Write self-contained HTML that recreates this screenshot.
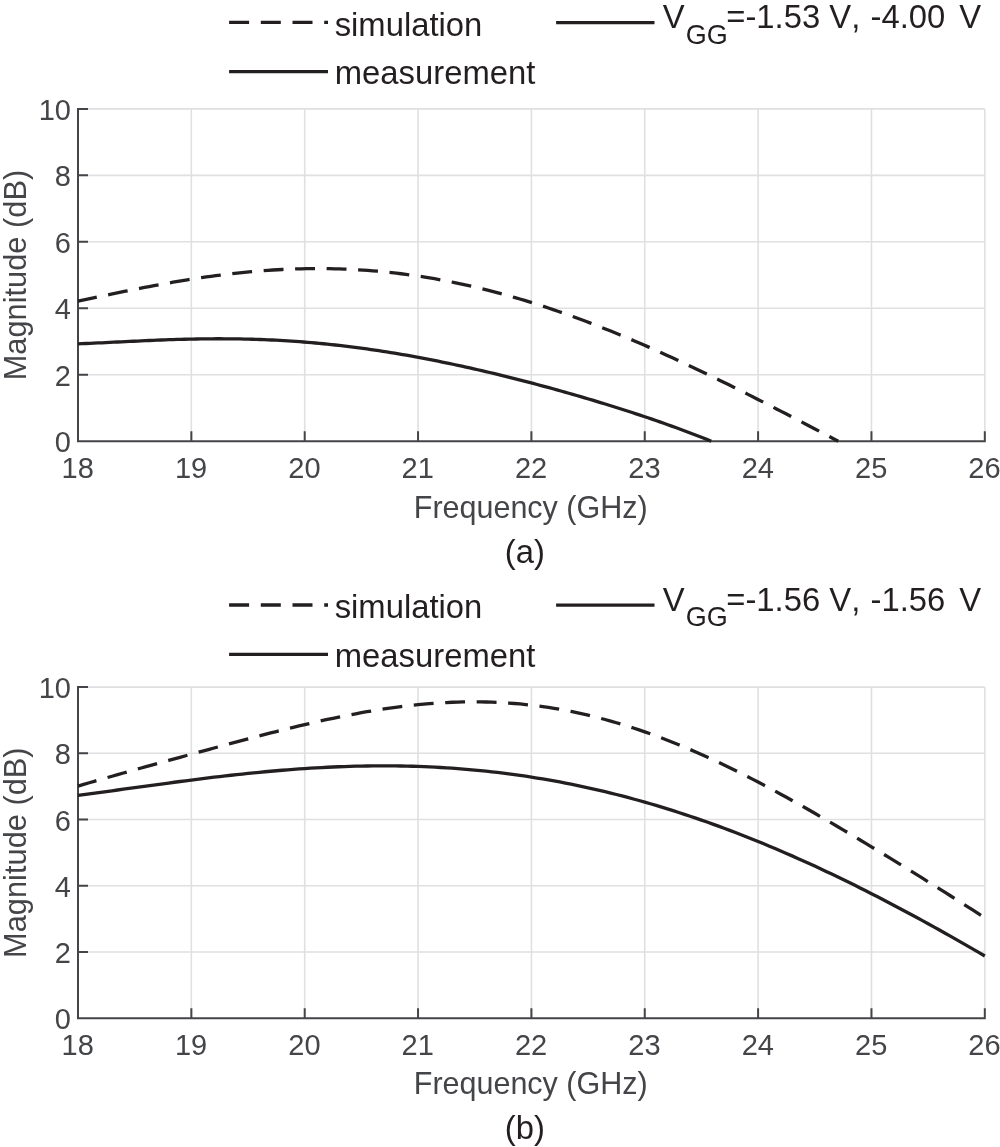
<!DOCTYPE html>
<html lang="en">
<head>
<meta charset="utf-8">
<title>Magnitude vs Frequency</title>
<style>
html,body{margin:0;padding:0;background:#fff;}
body{width:1000px;height:1147px;overflow:hidden;}
svg{display:block;}
text{font-family:"Liberation Sans", Arial, Helvetica, sans-serif;font-kerning:none;}
.tk{font-size:29px;fill:#444548;}
.al{font-size:30.5px;fill:#444548;}
.lg{font-size:32.8px;fill:#231f20;}
.sub{font-size:27.4px;fill:#231f20;}
</style>
</head>
<body>
<svg width="1000" height="1147" viewBox="0 0 1000 1147">
<rect width="1000" height="1147" fill="#fff"/>
<g id="chart1">
<path d="M191.35 108.90V441.20M304.70 108.90V441.20M418.05 108.90V441.20M531.40 108.90V441.20M644.75 108.90V441.20M758.10 108.90V441.20M871.45 108.90V441.20M984.80 108.90V441.20M78.00 374.74H984.80M78.00 308.28H984.80M78.00 241.82H984.80M78.00 175.36H984.80M78.00 108.90H984.80" fill="none" stroke="#dfe0e2" stroke-width="1.6"/>
<path d="M78.00 107.90V441.20H985.80M191.35 441.20v-10M304.70 441.20v-10M418.05 441.20v-10M531.40 441.20v-10M644.75 441.20v-10M758.10 441.20v-10M871.45 441.20v-10M984.80 441.20v-10M78.00 374.74h10M78.00 308.28h10M78.00 241.82h10M78.00 175.36h10M78.00 108.90h10" fill="none" stroke="#444548" stroke-width="2"/>
<path d="M78.00 301.16 L82.75 300.16 L87.50 299.15 L92.25 298.15 L97.01 297.15 L101.76 296.15 L106.51 295.15 L111.26 294.16 L116.01 293.18 L120.76 292.20 L125.51 291.24 L130.27 290.28 L135.02 289.33 L139.77 288.40 L144.52 287.47 L149.27 286.56 L154.02 285.66 L158.78 284.78 L163.53 283.92 L168.28 283.07 L173.03 282.24 L177.78 281.42 L182.53 280.63 L187.28 279.86 L192.04 279.10 L196.79 278.37 L201.54 277.66 L206.29 276.97 L211.04 276.31 L215.79 275.66 L220.54 275.05 L225.30 274.46 L230.05 273.89 L234.80 273.35 L239.55 272.84 L244.30 272.35 L249.05 271.89 L253.81 271.46 L258.56 271.06 L263.31 270.68 L268.06 270.34 L272.81 270.02 L277.56 269.74 L282.31 269.48 L287.07 269.26 L291.82 269.07 L296.57 268.91 L301.32 268.78 L306.07 268.68 L310.82 268.62 L315.57 268.59 L320.33 268.59 L325.08 268.62 L329.83 268.69 L334.58 268.78 L339.33 268.92 L344.08 269.09 L348.83 269.29 L353.59 269.52 L358.34 269.79 L363.09 270.09 L367.84 270.43 L372.59 270.80 L377.34 271.20 L382.10 271.64 L386.85 272.12 L391.60 272.62 L396.35 273.17 L401.10 273.74 L405.85 274.35 L410.60 275.00 L415.36 275.68 L420.11 276.39 L424.86 277.14 L429.61 277.92 L434.36 278.74 L439.11 279.59 L443.86 280.47 L448.62 281.39 L453.37 282.33 L458.12 283.32 L462.87 284.33 L467.62 285.38 L472.37 286.46 L477.13 287.58 L481.88 288.72 L486.63 289.90 L491.38 291.11 L496.13 292.35 L500.88 293.62 L505.63 294.92 L510.39 296.26 L515.14 297.62 L519.89 299.02 L524.64 300.44 L529.39 301.90 L534.14 303.38 L538.89 304.89 L543.65 306.43 L548.40 308.00 L553.15 309.60 L557.90 311.23 L562.65 312.88 L567.40 314.56 L572.15 316.27 L576.91 318.00 L581.66 319.76 L586.41 321.54 L591.16 323.35 L595.91 325.18 L600.66 327.04 L605.42 328.93 L610.17 330.83 L614.92 332.76 L619.67 334.71 L624.42 336.68 L629.17 338.68 L633.92 340.70 L638.68 342.73 L643.43 344.79 L648.18 346.87 L652.93 348.97 L657.68 351.09 L662.43 353.22 L667.18 355.38 L671.94 357.55 L676.69 359.74 L681.44 361.95 L686.19 364.17 L690.94 366.41 L695.69 368.66 L700.45 370.93 L705.20 373.22 L709.95 375.52 L714.70 377.83 L719.45 380.15 L724.20 382.49 L728.95 384.84 L733.71 387.20 L738.46 389.58 L743.21 391.96 L747.96 394.36 L752.71 396.76 L757.46 399.17 L762.21 401.60 L766.97 404.03 L771.72 406.47 L776.47 408.91 L781.22 411.37 L785.97 413.83 L790.72 416.29 L795.48 418.76 L800.23 421.24 L804.98 423.72 L809.73 426.21 L814.48 428.70 L819.23 431.19 L823.98 433.69 L828.74 436.19 L833.49 438.69 L838.24 441.19" fill="none" stroke="#231f20" stroke-width="3.3" stroke-dasharray="19.9 11.6" stroke-dashoffset="0.7"/>
<path d="M78.00 343.83 L81.96 343.67 L85.92 343.51 L89.87 343.34 L93.83 343.16 L97.79 342.97 L101.75 342.79 L105.71 342.60 L109.66 342.40 L113.62 342.21 L117.58 342.01 L121.54 341.82 L125.50 341.62 L129.45 341.43 L133.41 341.24 L137.37 341.05 L141.33 340.86 L145.29 340.68 L149.24 340.51 L153.20 340.34 L157.16 340.17 L161.12 340.02 L165.08 339.86 L169.03 339.72 L172.99 339.59 L176.95 339.46 L180.91 339.34 L184.87 339.24 L188.83 339.14 L192.78 339.05 L196.74 338.98 L200.70 338.91 L204.66 338.86 L208.62 338.82 L212.57 338.79 L216.53 338.77 L220.49 338.77 L224.45 338.78 L228.41 338.80 L232.36 338.84 L236.32 338.89 L240.28 338.95 L244.24 339.03 L248.20 339.12 L252.15 339.23 L256.11 339.35 L260.07 339.49 L264.03 339.64 L267.99 339.81 L271.94 339.99 L275.90 340.19 L279.86 340.40 L283.82 340.63 L287.78 340.87 L291.73 341.13 L295.69 341.40 L299.65 341.69 L303.61 342.00 L307.57 342.32 L311.52 342.66 L315.48 343.01 L319.44 343.38 L323.40 343.76 L327.36 344.16 L331.31 344.57 L335.27 345.00 L339.23 345.44 L343.19 345.90 L347.15 346.38 L351.10 346.87 L355.06 347.37 L359.02 347.89 L362.98 348.43 L366.94 348.98 L370.89 349.54 L374.85 350.12 L378.81 350.71 L382.77 351.32 L386.73 351.94 L390.69 352.57 L394.64 353.22 L398.60 353.88 L402.56 354.55 L406.52 355.24 L410.48 355.94 L414.43 356.66 L418.39 357.39 L422.35 358.13 L426.31 358.88 L430.27 359.64 L434.22 360.42 L438.18 361.21 L442.14 362.01 L446.10 362.82 L450.06 363.65 L454.01 364.49 L457.97 365.33 L461.93 366.19 L465.89 367.06 L469.85 367.94 L473.80 368.83 L477.76 369.74 L481.72 370.65 L485.68 371.57 L489.64 372.51 L493.59 373.45 L497.55 374.41 L501.51 375.37 L505.47 376.34 L509.43 377.33 L513.38 378.32 L517.34 379.32 L521.30 380.34 L525.26 381.36 L529.22 382.39 L533.17 383.43 L537.13 384.48 L541.09 385.54 L545.05 386.61 L549.01 387.69 L552.96 388.78 L556.92 389.87 L560.88 390.98 L564.84 392.09 L568.80 393.22 L572.76 394.35 L576.71 395.49 L580.67 396.65 L584.63 397.81 L588.59 398.98 L592.55 400.16 L596.50 401.35 L600.46 402.56 L604.42 403.77 L608.38 404.99 L612.34 406.22 L616.29 407.46 L620.25 408.72 L624.21 409.98 L628.17 411.26 L632.13 412.54 L636.08 413.84 L640.04 415.15 L644.00 416.48 L647.96 417.81 L651.92 419.16 L655.87 420.52 L659.83 421.90 L663.79 423.29 L667.75 424.69 L671.71 426.11 L675.66 427.54 L679.62 428.99 L683.58 430.45 L687.54 431.94 L691.50 433.43 L695.45 434.95 L699.41 436.48 L703.37 438.04 L707.33 439.61 L711.29 441.20" fill="none" stroke="#231f20" stroke-width="3.3"/>
<text class="tk" x="77.70" y="478.30" text-anchor="middle">18</text>
<text class="tk" x="191.05" y="478.30" text-anchor="middle">19</text>
<text class="tk" x="304.40" y="478.30" text-anchor="middle">20</text>
<text class="tk" x="417.75" y="478.30" text-anchor="middle">21</text>
<text class="tk" x="531.10" y="478.30" text-anchor="middle">22</text>
<text class="tk" x="644.45" y="478.30" text-anchor="middle">23</text>
<text class="tk" x="757.80" y="478.30" text-anchor="middle">24</text>
<text class="tk" x="871.15" y="478.30" text-anchor="middle">25</text>
<text class="tk" x="984.50" y="478.30" text-anchor="middle">26</text>
<text class="tk" x="71" y="452.20" text-anchor="end">0</text>
<text class="tk" x="71" y="385.74" text-anchor="end">2</text>
<text class="tk" x="71" y="319.28" text-anchor="end">4</text>
<text class="tk" x="71" y="252.82" text-anchor="end">6</text>
<text class="tk" x="71" y="186.36" text-anchor="end">8</text>
<text class="tk" x="71" y="119.90" text-anchor="end">10</text>
<text class="al" x="530.7" y="517.70" text-anchor="middle">Frequency (GHz)</text>
<text class="al" style="font-size:30.8px" transform="translate(26.2 275.05) rotate(-90)" text-anchor="middle">Magnitude (dB)</text>
<text class="lg" x="524.8" y="563.20" text-anchor="middle">(a)</text>
<path d="M229.1 22.40H328" fill="none" stroke="#231f20" stroke-width="3.3" stroke-dasharray="20 11.7"/>
<path d="M229.1 71.70H328" fill="none" stroke="#231f20" stroke-width="3.3"/>
<path d="M556.1 22.60H654.5" fill="none" stroke="#231f20" stroke-width="3.3"/>
<text class="lg" x="334.7" y="35.60">simulation</text>
<text class="lg" x="334.8" y="84.30">measurement</text>
<text class="lg" y="28.00"><tspan x="662.8">V</tspan><tspan class="sub" x="685.7" dy="15.5" textLength="42" lengthAdjust="spacingAndGlyphs">GG</tspan><tspan x="726.3" dy="-15.5">=-1.53</tspan><tspan x="829.3">V,</tspan><tspan x="870.5">-4.00</tspan><tspan x="959.2">V</tspan></text>
</g>
<g id="chart2">
<path d="M191.35 687.10V1018.20M304.70 687.10V1018.20M418.05 687.10V1018.20M531.40 687.10V1018.20M644.75 687.10V1018.20M758.10 687.10V1018.20M871.45 687.10V1018.20M984.80 687.10V1018.20M78.00 951.98H984.80M78.00 885.76H984.80M78.00 819.54H984.80M78.00 753.32H984.80M78.00 687.10H984.80" fill="none" stroke="#dfe0e2" stroke-width="1.6"/>
<path d="M78.00 686.10V1018.20H985.80M191.35 1018.20v-10M304.70 1018.20v-10M418.05 1018.20v-10M531.40 1018.20v-10M644.75 1018.20v-10M758.10 1018.20v-10M871.45 1018.20v-10M984.80 1018.20v-10M78.00 951.98h10M78.00 885.76h10M78.00 819.54h10M78.00 753.32h10M78.00 687.10h10" fill="none" stroke="#444548" stroke-width="2"/>
<path d="M78.00 786.13 L83.67 784.44 L89.34 782.76 L95.00 781.11 L100.67 779.47 L106.34 777.84 L112.01 776.22 L117.67 774.62 L123.34 773.02 L129.01 771.43 L134.68 769.85 L140.34 768.27 L146.01 766.70 L151.68 765.13 L157.34 763.56 L163.01 761.99 L168.68 760.43 L174.35 758.87 L180.01 757.31 L185.68 755.75 L191.35 754.19 L197.02 752.64 L202.69 751.09 L208.35 749.54 L214.02 748.00 L219.69 746.46 L225.36 744.93 L231.02 743.40 L236.69 741.88 L242.36 740.37 L248.02 738.86 L253.69 737.37 L259.36 735.89 L265.03 734.42 L270.69 732.97 L276.36 731.53 L282.03 730.10 L287.70 728.70 L293.36 727.31 L299.03 725.95 L304.70 724.61 L310.37 723.29 L316.04 721.99 L321.70 720.72 L327.37 719.48 L333.04 718.27 L338.71 717.09 L344.37 715.95 L350.04 714.83 L355.71 713.76 L361.38 712.72 L367.04 711.72 L372.71 710.76 L378.38 709.84 L384.04 708.96 L389.71 708.13 L395.38 707.34 L401.05 706.60 L406.71 705.91 L412.38 705.27 L418.05 704.68 L423.72 704.14 L429.39 703.65 L435.05 703.22 L440.72 702.85 L446.39 702.53 L452.06 702.27 L457.72 702.07 L463.39 701.93 L469.06 701.85 L474.72 701.83 L480.39 701.87 L486.06 701.98 L491.73 702.15 L497.39 702.38 L503.06 702.68 L508.73 703.05 L514.40 703.48 L520.06 703.98 L525.73 704.54 L531.40 705.17 L537.07 705.87 L542.74 706.63 L548.40 707.47 L554.07 708.37 L559.74 709.34 L565.40 710.37 L571.07 711.48 L576.74 712.65 L582.41 713.88 L588.08 715.19 L593.74 716.56 L599.41 718.00 L605.08 719.50 L610.74 721.07 L616.41 722.71 L622.08 724.40 L627.75 726.16 L633.41 727.99 L639.08 729.88 L644.75 731.82 L650.42 733.83 L656.09 735.90 L661.75 738.02 L667.42 740.21 L673.09 742.45 L678.75 744.74 L684.42 747.09 L690.09 749.50 L695.76 751.95 L701.42 754.46 L707.09 757.02 L712.76 759.62 L718.43 762.27 L724.09 764.97 L729.76 767.71 L735.43 770.50 L741.10 773.33 L746.76 776.20 L752.43 779.10 L758.10 782.05 L763.77 785.03 L769.44 788.05 L775.10 791.10 L780.77 794.18 L786.44 797.30 L792.11 800.44 L797.77 803.61 L803.44 806.81 L809.11 810.03 L814.77 813.28 L820.44 816.55 L826.11 819.84 L831.78 823.16 L837.44 826.49 L843.11 829.84 L848.78 833.21 L854.45 836.59 L860.11 839.99 L865.78 843.41 L871.45 846.83 L877.12 850.27 L882.79 853.73 L888.45 857.19 L894.12 860.67 L899.79 864.15 L905.46 867.65 L911.12 871.16 L916.79 874.67 L922.46 878.20 L928.12 881.74 L933.79 885.28 L939.46 888.84 L945.13 892.41 L950.79 895.99 L956.46 899.59 L962.13 903.19 L967.80 906.82 L973.46 910.45 L979.13 914.11 L984.80 917.78" fill="none" stroke="#231f20" stroke-width="3.3" stroke-dasharray="19.9 11.6" stroke-dashoffset="0.7"/>
<path d="M78.00 795.36 L83.67 794.62 L89.34 793.86 L95.00 793.10 L100.67 792.33 L106.34 791.56 L112.01 790.78 L117.67 790.00 L123.34 789.22 L129.01 788.43 L134.68 787.65 L140.34 786.87 L146.01 786.09 L151.68 785.31 L157.34 784.54 L163.01 783.78 L168.68 783.01 L174.35 782.26 L180.01 781.51 L185.68 780.77 L191.35 780.04 L197.02 779.32 L202.69 778.62 L208.35 777.92 L214.02 777.23 L219.69 776.56 L225.36 775.91 L231.02 775.26 L236.69 774.64 L242.36 774.03 L248.02 773.43 L253.69 772.86 L259.36 772.30 L265.03 771.76 L270.69 771.24 L276.36 770.74 L282.03 770.26 L287.70 769.81 L293.36 769.37 L299.03 768.96 L304.70 768.57 L310.37 768.21 L316.04 767.87 L321.70 767.55 L327.37 767.26 L333.04 767.00 L338.71 766.76 L344.37 766.55 L350.04 766.37 L355.71 766.21 L361.38 766.08 L367.04 765.98 L372.71 765.91 L378.38 765.87 L384.04 765.86 L389.71 765.88 L395.38 765.93 L401.05 766.02 L406.71 766.13 L412.38 766.27 L418.05 766.45 L423.72 766.66 L429.39 766.90 L435.05 767.17 L440.72 767.48 L446.39 767.82 L452.06 768.20 L457.72 768.61 L463.39 769.05 L469.06 769.53 L474.72 770.04 L480.39 770.59 L486.06 771.17 L491.73 771.79 L497.39 772.44 L503.06 773.13 L508.73 773.85 L514.40 774.61 L520.06 775.41 L525.73 776.24 L531.40 777.11 L537.07 778.01 L542.74 778.95 L548.40 779.93 L554.07 780.94 L559.74 781.99 L565.40 783.08 L571.07 784.20 L576.74 785.36 L582.41 786.56 L588.08 787.79 L593.74 789.06 L599.41 790.37 L605.08 791.71 L610.74 793.09 L616.41 794.51 L622.08 795.96 L627.75 797.45 L633.41 798.97 L639.08 800.53 L644.75 802.13 L650.42 803.77 L656.09 805.44 L661.75 807.14 L667.42 808.88 L673.09 810.66 L678.75 812.47 L684.42 814.32 L690.09 816.20 L695.76 818.12 L701.42 820.07 L707.09 822.06 L712.76 824.08 L718.43 826.14 L724.09 828.23 L729.76 830.35 L735.43 832.51 L741.10 834.70 L746.76 836.93 L752.43 839.18 L758.10 841.47 L763.77 843.80 L769.44 846.15 L775.10 848.54 L780.77 850.95 L786.44 853.40 L792.11 855.88 L797.77 858.39 L803.44 860.93 L809.11 863.50 L814.77 866.10 L820.44 868.73 L826.11 871.39 L831.78 874.08 L837.44 876.79 L843.11 879.54 L848.78 882.31 L854.45 885.10 L860.11 887.93 L865.78 890.78 L871.45 893.66 L877.12 896.56 L882.79 899.49 L888.45 902.44 L894.12 905.42 L899.79 908.42 L905.46 911.44 L911.12 914.49 L916.79 917.56 L922.46 920.65 L928.12 923.76 L933.79 926.90 L939.46 930.06 L945.13 933.23 L950.79 936.43 L956.46 939.64 L962.13 942.88 L967.80 946.13 L973.46 949.40 L979.13 952.69 L984.80 955.99" fill="none" stroke="#231f20" stroke-width="3.3"/>
<text class="tk" x="77.70" y="1055.00" text-anchor="middle">18</text>
<text class="tk" x="191.05" y="1055.00" text-anchor="middle">19</text>
<text class="tk" x="304.40" y="1055.00" text-anchor="middle">20</text>
<text class="tk" x="417.75" y="1055.00" text-anchor="middle">21</text>
<text class="tk" x="531.10" y="1055.00" text-anchor="middle">22</text>
<text class="tk" x="644.45" y="1055.00" text-anchor="middle">23</text>
<text class="tk" x="757.80" y="1055.00" text-anchor="middle">24</text>
<text class="tk" x="871.15" y="1055.00" text-anchor="middle">25</text>
<text class="tk" x="984.50" y="1055.00" text-anchor="middle">26</text>
<text class="tk" x="71" y="1029.20" text-anchor="end">0</text>
<text class="tk" x="71" y="962.98" text-anchor="end">2</text>
<text class="tk" x="71" y="896.76" text-anchor="end">4</text>
<text class="tk" x="71" y="830.54" text-anchor="end">6</text>
<text class="tk" x="71" y="764.32" text-anchor="end">8</text>
<text class="tk" x="71" y="698.10" text-anchor="end">10</text>
<text class="al" x="530.7" y="1094.40" text-anchor="middle">Frequency (GHz)</text>
<text class="al" style="font-size:30.8px" transform="translate(26.2 852.65) rotate(-90)" text-anchor="middle">Magnitude (dB)</text>
<text class="lg" x="524.8" y="1139.30" text-anchor="middle">(b)</text>
<path d="M229.1 605.00H328" fill="none" stroke="#231f20" stroke-width="3.3" stroke-dasharray="20 11.7"/>
<path d="M229.1 654.30H328" fill="none" stroke="#231f20" stroke-width="3.3"/>
<path d="M556.1 605.20H654.5" fill="none" stroke="#231f20" stroke-width="3.3"/>
<text class="lg" x="334.7" y="618.20">simulation</text>
<text class="lg" x="334.8" y="666.90">measurement</text>
<text class="lg" y="610.60"><tspan x="662.8">V</tspan><tspan class="sub" x="685.7" dy="15.5" textLength="42" lengthAdjust="spacingAndGlyphs">GG</tspan><tspan x="726.3" dy="-15.5">=-1.56</tspan><tspan x="829.3">V,</tspan><tspan x="870.5">-1.56</tspan><tspan x="959.2">V</tspan></text>
</g>
</svg>
</body>
</html>
